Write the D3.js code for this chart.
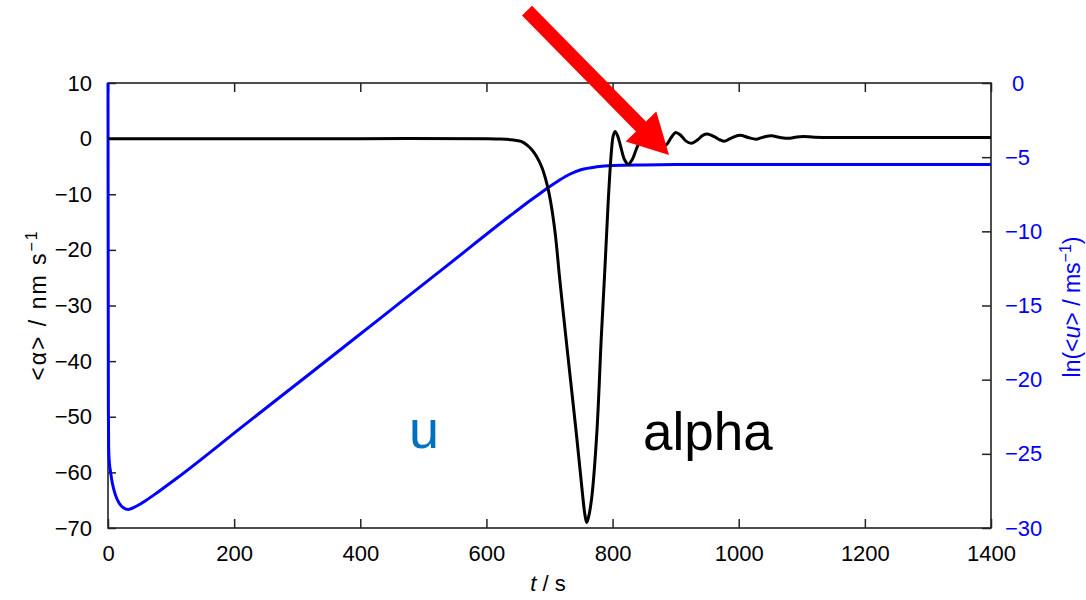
<!DOCTYPE html>
<html>
<head>
<meta charset="utf-8">
<script src="https://cdn.jsdelivr.net/npm/d3@7/dist/d3.min.js"></script>
<style>
  html, body { margin: 0; padding: 0; background: #fff; }
  svg { display: block; font-family: "Liberation Sans", Arial, sans-serif; }
</style>
</head>
<body>
<svg id="chart" width="1086" height="600"></svg>
<script>
// Mean acceleration <α> (nm s^-1) against time t (s)
const alphaT = [0, 200, 400, 600, 620, 640, 655, 665, 672, 680, 688, 696, 702, 709, 716, 722, 732, 743, 752, 756, 759, 762, 767, 775, 782, 788, 793, 798, 801, 804, 808, 813, 819, 825, 831, 838, 845, 852, 860, 870, 878, 886, 893, 900, 908, 916, 925, 935, 943, 952, 962, 970, 978, 988, 1002, 1015, 1028, 1040, 1052, 1066, 1081, 1092, 1102, 1120, 1150, 1200, 1300, 1400];
const alphaV = [0, 0, 0, 0, -0.05, -0.2, -0.5, -1.2, -2, -3.3, -5.2, -8.2, -11.5, -17, -25, -31.5, -42, -53.5, -63.5, -67.5, -69, -68, -64.5, -53, -36, -23, -11.5, -2.5, 0.5, 1.3, 0.5, -1.5, -3.8, -4.6, -3.8, -1.8, -0.2, 0.4, -0.2, -1.3, -1.6, -1.0, 0.2, 1.1, 0.6, -0.4, -0.85, -0.2, 0.6, 0.8, 0.3, -0.2, -0.45, 0.1, 0.6, 0.2, -0.1, 0.3, 0.5, 0.2, 0.05, 0.3, 0.4, 0.25, 0.22, 0.22, 0.2, 0.2];

// ln of mean velocity <u> (m s^-1) against time t (s)
const uT = [0, 0.3, 0.6, 1, 2, 4, 7, 12, 18, 25, 32, 42, 60, 80, 109, 215, 320, 426, 532, 637, 660, 680, 697, 715, 732, 750, 775, 800, 850, 900, 1000, 1200, 1400];
const lnU = [0, -12, -22, -24.5, -25.5, -26.2, -27.0, -27.8, -28.35, -28.65, -28.75, -28.6, -28.15, -27.55, -26.65, -23.1, -19.6, -16.05, -12.5, -8.97, -8.22, -7.6, -7.08, -6.57, -6.15, -5.85, -5.65, -5.56, -5.52, -5.5, -5.5, -5.5, -5.5];

// Axis ticks
const xTicks = [0, 200, 400, 600, 800, 1000, 1200, 1400];
const yLeftTicks = [10, 0, -10, -20, -30, -40, -50, -60, -70];
const yRightTicks = [0, -5, -10, -15, -20, -25, -30];

// Annotation arrow, tail and head in (t, α) units
const arrowFrom = [664.3, 23.0];
const arrowTo = [889.5, -2.95];

const svg = d3.select("#chart");
const plotL = 108, plotR = 991, plotT = 83, plotB = 528;

const x = d3.scaleLinear().domain([0, 1400]).range([plotL, plotR]);
const yL = d3.scaleLinear().domain([-70, 10]).range([plotB, plotT]);
const yR = d3.scaleLinear().domain([-30, 0]).range([plotB, plotT]);

const FS = 22;

// frame
svg.append("rect")
  .attr("x", plotL).attr("y", plotT)
  .attr("width", plotR - plotL).attr("height", plotB - plotT)
  .attr("fill", "none").attr("stroke", "#222").attr("stroke-width", 1.6);

function styleAxis(g, color) {
  g.select(".domain").remove();
  g.selectAll(".tick line").attr("stroke", "#222").attr("stroke-width", 1.5);
  g.selectAll(".tick text").attr("fill", color).style("font-size", FS + "px")
    .style("font-family", "'Liberation Sans', Arial, sans-serif");
}

// bottom axis
svg.append("g").attr("transform", `translate(0,${plotB})`)
  .call(d3.axisBottom(x).tickValues(xTicks).tickSize(-9).tickPadding(17).tickFormat(d3.format("d")))
  .call(g => styleAxis(g, "#000"));

// top mirrored ticks
svg.append("g").attr("transform", `translate(0,${plotT})`)
  .call(d3.axisTop(x).tickValues(xTicks).tickSize(-9).tickFormat(""))
  .call(g => styleAxis(g, "#000"));

// left axis
svg.append("g").attr("transform", `translate(${plotL},0)`)
  .call(d3.axisLeft(yL).tickValues(yLeftTicks).tickSize(-8).tickPadding(16))
  .call(g => styleAxis(g, "#000"));

// right axis
const gR = svg.append("g").attr("transform", `translate(${plotR},0)`)
  .call(d3.axisRight(yR).tickValues(yRightTicks).tickSize(-9).tickPadding(14))
  .call(g => styleAxis(g, "#0000ff"));
gR.selectAll(".tick text").filter(d => d === 0).attr("dx", 7);

// data lines
const uLine = d3.line().x((d, i) => x(uT[i])).y(d => yR(d)).curve(d3.curveMonotoneX);
svg.append("path").datum(lnU)
  .attr("d", uLine)
  .attr("fill", "none").attr("stroke", "#0000ff").attr("stroke-width", 3)
  .attr("stroke-linejoin", "round");

const aLine = d3.line().x((d, i) => x(alphaT[i])).y(d => yL(d)).curve(d3.curveCatmullRom.alpha(0.5));
svg.append("path").datum(alphaV)
  .attr("d", aLine)
  .attr("fill", "none").attr("stroke", "#000").attr("stroke-width", 3)
  .attr("stroke-linejoin", "round");

// axis titles
const lt = svg.append("text")
  .attr("transform", "translate(46,305) rotate(-90)")
  .attr("text-anchor", "middle").attr("fill", "#000")
  .style("font-size", "23px").style("letter-spacing", "2px");
lt.append("tspan").text("<α> / nm s");
lt.append("tspan").attr("dy", -9).style("font-size", "16px").text("−1");

const rt = svg.append("text")
  .attr("transform", "translate(1080,307) rotate(-90)")
  .attr("text-anchor", "middle").attr("fill", "#0000ff").style("font-size", "23px");
rt.append("tspan").text("ln(<");
rt.append("tspan").style("font-style", "italic").text("u");
rt.append("tspan").text("> / ms");
rt.append("tspan").attr("dy", -9).style("font-size", "16px").text("−1");
rt.append("tspan").attr("dy", 9).text(")");

const xt = svg.append("text")
  .attr("x", 548).attr("y", 591)
  .attr("text-anchor", "middle").attr("fill", "#000").style("font-size", FS + "px");
xt.append("tspan").style("font-style", "italic").text("t");
xt.append("tspan").text(" / s");

// series labels
svg.append("text").attr("x", 409).attr("y", 448)
  .attr("fill", "#0070c0").style("font-size", "54px").text("u");
svg.append("text").attr("x", 643).attr("y", 450)
  .attr("fill", "#000").style("font-size", "53px").text("alpha");

// red arrow
(function drawArrow() {
  const p0 = [x(arrowFrom[0]), yL(arrowFrom[1])];
  const p1 = [x(arrowTo[0]), yL(arrowTo[1])];
  const dx = p1[0] - p0[0], dy = p1[1] - p0[1];
  const len = Math.hypot(dx, dy);
  const ux = dx / len, uy = dy / len;
  const nx = -uy, ny = ux;
  const shaftW = 7, headW = 21.5, headL = 40;
  const b = [p1[0] - ux * headL, p1[1] - uy * headL];
  const pts = [
    [p0[0] + nx * shaftW, p0[1] + ny * shaftW],
    [b[0] + nx * shaftW, b[1] + ny * shaftW],
    [b[0] + nx * headW, b[1] + ny * headW],
    p1,
    [b[0] - nx * headW, b[1] - ny * headW],
    [b[0] - nx * shaftW, b[1] - ny * shaftW],
    [p0[0] - nx * shaftW, p0[1] - ny * shaftW]
  ];
  svg.append("polygon")
    .attr("points", pts.map(p => p.join(",")).join(" "))
    .attr("fill", "#ff0000");
})();
</script>
</body>
</html>
